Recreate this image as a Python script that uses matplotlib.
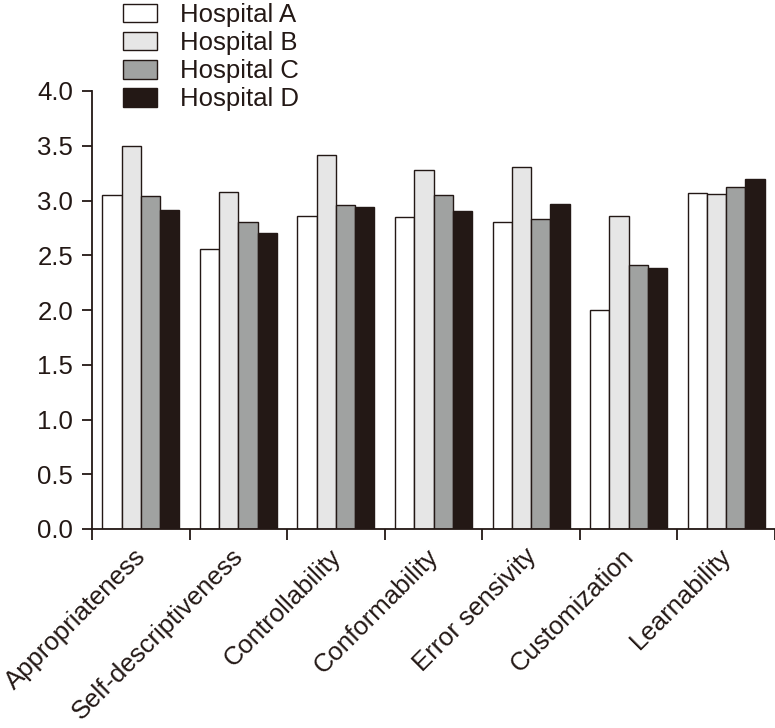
import matplotlib
matplotlib.use("Agg")
import matplotlib.pyplot as plt
import matplotlib.transforms as mtransforms
import numpy as np

categories = ["Appropriateness", "Self-descriptiveness", "Controllability",
              "Conformability", "Error sensivity", "Customization", "Learnability"]
hospitals = ["Hospital A", "Hospital B", "Hospital C", "Hospital D"]
hospital_a = [3.05, 2.56, 2.86, 2.85, 2.80, 2.00, 3.07]
hospital_b = [3.50, 3.08, 3.42, 3.28, 3.31, 2.86, 3.06]
hospital_c = [3.04, 2.80, 2.96, 3.05, 2.83, 2.41, 3.12]
hospital_d = [2.91, 2.70, 2.94, 2.90, 2.97, 2.38, 3.20]
yticks = [0.0, 0.5, 1.0, 1.5, 2.0, 2.5, 3.0, 3.5, 4.0]

series = [hospital_a, hospital_b, hospital_c, hospital_d]
colors = ["#ffffff", "#e6e6e6", "#a0a2a1", "#231815"]
ink = "#231815"
fs = 18.5

plt.rcParams['font.family'] = ['Liberation Sans', 'DejaVu Sans']
fig = plt.figure(figsize=(7.75, 7.28), dpi=100)
ax = fig.add_axes([92/775, 1-529/728, 1-92/775, (529-91)/728])

x = np.arange(len(categories))
w = 0.1975
for i, (vals, c, name) in enumerate(zip(series, colors, hospitals)):
    ax.bar(x + (i - 1.5) * w, vals, width=w, color=c, edgecolor=ink,
           linewidth=1.0, label=name)

ax.set_xlim(-0.5, len(categories) - 0.5)
ax.set_ylim(0, 4.0)
ax.set_yticks(yticks)
ax.set_yticklabels([f"{v:.1f}" for v in yticks], fontsize=fs, color=ink)

ax.set_xticks(np.arange(-0.5, len(categories)), minor=False)
ax.set_xticklabels([])
ax.set_xticks(x, minor=True)
ax.set_xticklabels(categories, minor=True, rotation=45, ha='right',
                   rotation_mode='anchor', fontsize=fs, color=ink)
ax.tick_params(axis='x', which='major', direction='out', length=8, width=1.3, color=ink)
ax.tick_params(axis='x', which='minor', length=0, pad=11)
ax.tick_params(axis='y', direction='out', length=7.5, width=1.3, color=ink, pad=6)

offset = mtransforms.ScaledTranslation(-7/100, 0, fig.dpi_scale_trans)
for lbl in ax.get_xticklabels(minor=True):
    lbl.set_transform(lbl.get_transform() + offset)

for s in ['top', 'right']:
    ax.spines[s].set_visible(False)
for s in ['left', 'bottom']:
    ax.spines[s].set_color(ink)
    ax.spines[s].set_linewidth(1.3)

leg = fig.legend(loc='upper left', bbox_to_anchor=(123/775, 1 - 3/728),
                 frameon=False, fontsize=fs, handlelength=1.33, handleheight=0.74,
                 labelspacing=0.16, handletextpad=0.88, borderpad=0, borderaxespad=0)
for t in leg.get_texts():
    t.set_color(ink)

fig.savefig("out.png", dpi=100)
